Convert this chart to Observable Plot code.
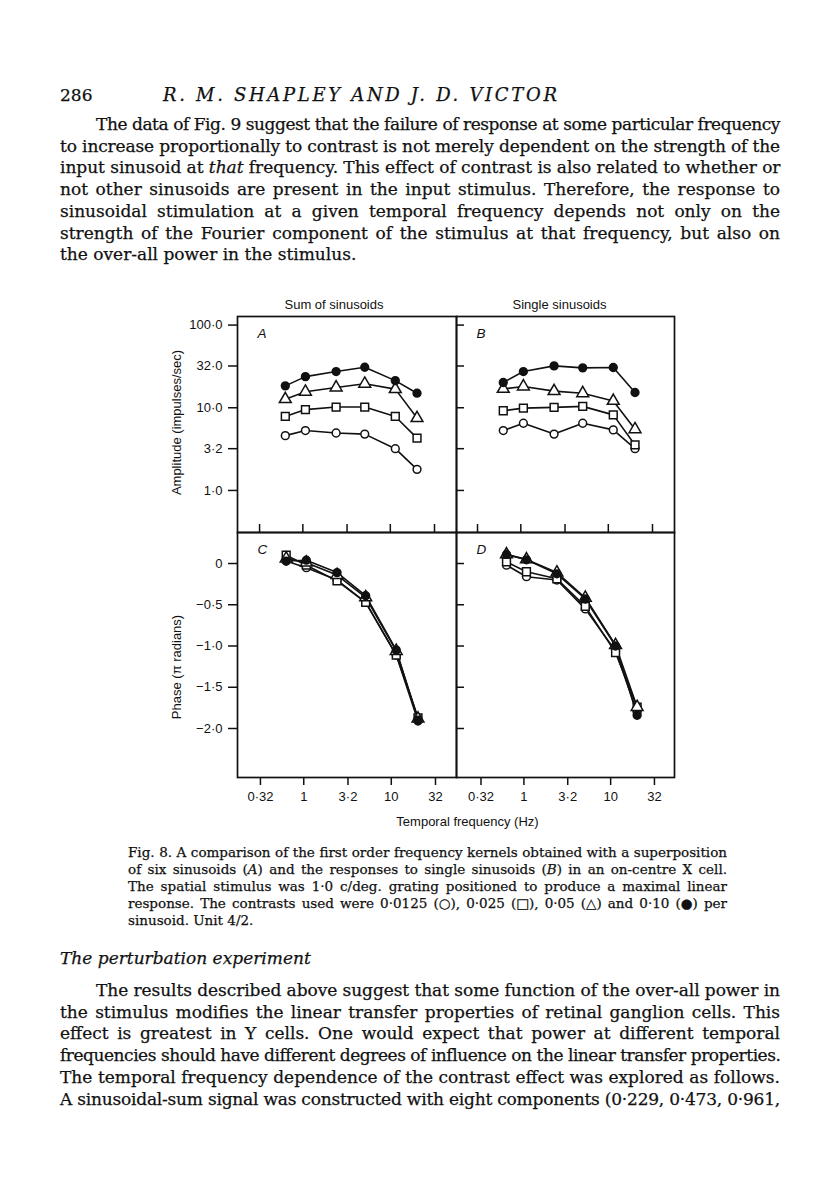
<!DOCTYPE html>
<html><head><meta charset="utf-8">
<script src="https://cdn.jsdelivr.net/npm/d3@7"></script>
<script src="https://cdn.jsdelivr.net/npm/@observablehq/plot@0.6"></script>
<style>
html,body{margin:0;padding:0;background:#fff;}
#page{position:relative;width:816px;height:1191px;overflow:hidden;background:#fff;color:#111;}
.t{position:absolute;white-space:nowrap;font-family:"DejaVu Serif",serif;color:#111;-webkit-text-stroke:0.25px #111;}
.panel{position:absolute;}
</style></head><body><div id="page"></div>
<script>
// ---------- data ----------
const freq = [0.63, 1.07, 2.4, 5.1, 11.4, 20.2];
const contrasts = ["0·0125", "0·025", "0·05", "0·10"];
const symbols = ["circle", "square", "triangle", "circle"];
const fills = ["white", "white", "white", "#111"];

const ampSum0125 = [4.6, 5.3, 4.95, 4.8, 3.2, 1.8];
const ampSum025  = [7.85, 9.5, 10.2, 10.2, 7.85, 4.3];
const ampSum05   = [12.7, 15.6, 17.6, 19.5, 16.8, 7.5];
const ampSum10   = [18.4, 23.8, 27.4, 30.9, 21.3, 15.0];

const ampSingle0125 = [5.3, 6.5, 4.8, 6.5, 5.4, 3.2];
const ampSingle025  = [9.2, 9.9, 10.1, 10.4, 8.2, 3.55];
const ampSingle05   = [16.9, 18.1, 15.9, 15.0, 12.1, 5.5];
const ampSingle10   = [20.2, 27.4, 32.1, 30.4, 30.7, 15.3];

const phaseSum0125 = [0.03, -0.05, -0.20, -0.47, -1.11, -1.91];
const phaseSum025  = [0.10, -0.02, -0.21, -0.47, -1.11, -1.87];
const phaseSum05   = [0.06, 0.01, -0.14, -0.41, -1.06, -1.88];
const phaseSum10   = [0.03, 0.04, -0.11, -0.39, -1.05, -1.90];

const phaseSingle0125 = [-0.02, -0.16, -0.20, -0.55, -1.06, -1.80];
const phaseSingle025  = [0.02, -0.10, -0.185, -0.52, -1.08, -1.74];
const phaseSingle05   = [0.11, 0.05, -0.11, -0.415, -0.99, -1.74];
const phaseSingle10   = [0.11, 0.045, -0.125, -0.43, -1.00, -1.84];

const freqTicks = [0.32, 1, 3.2, 10, 32];
const freqTickLabels = ["0·32", "1", "3·2", "10", "32"];
const ampTicks = [1, 3.2, 10, 32, 100];
const ampTickLabels = ["1·0", "3·2", "10·0", "32·0", "100·0"];
const phaseTicks = [0, -0.5, -1, -1.5, -2];
const phaseTickLabels = ["0", "−0·5", "−1·0", "−1·5", "−2·0"];

function table(arrs) {
  const rows = [];
  arrs.forEach((vals, s) => vals.forEach((v, i) => rows.push({f: freq[i], v, s})));
  return rows;
}
const sumAmp = table([ampSum0125, ampSum025, ampSum05, ampSum10]);
const singleAmp = table([ampSingle0125, ampSingle025, ampSingle05, ampSingle10]);
const sumPhase = table([phaseSum0125, phaseSum025, phaseSum05, phaseSum10]);
const singlePhase = table([phaseSingle0125, phaseSingle025, phaseSingle05, phaseSingle10]);

// ---------- page ----------
const page = document.getElementById("page");
const INK = "#111";
const ML = 90, MR = 10, MT = 26, MB = 50;
const FS = 13;

function panel(o) {
  const {left, top, w, h, xDomain, yType, yDomain, yTicks, yLabels, data,
         labelled, bottom, letter, title, titleDx, yTitle, yTitleDy, xTitle} = o;
  const marks = [];
  marks.push(Plot.frame({stroke: INK, strokeWidth: 1.7}));
  if (labelled) {
    marks.push(Plot.axisY({ticks: yTicks, tickFormat: d => yLabels[yTicks.indexOf(d)],
      tickSize: 9, tickPadding: 6, label: null, color: INK, strokeWidth: 1.5, fontSize: FS}));
    marks.push(Plot.text([yTitle], {text: d => d, frameAnchor: "left", dx: -61, dy: yTitleDy,
      rotate: -90, textAnchor: "middle", lineAnchor: "middle", fontSize: FS, fill: INK}));
  } else {
    marks.push(Plot.tickY(yTicks, {y: d => d, insetRight: w - 8, stroke: INK, strokeWidth: 1.5}));
  }
  if (bottom) {
    marks.push(Plot.axisX({ticks: freqTicks, tickFormat: d => freqTickLabels[freqTicks.indexOf(d)],
      anchor: "bottom", tickSize: 8, tickPadding: 6, label: null, color: INK, strokeWidth: 1.5, fontSize: FS}));
  } else {
    marks.push(Plot.tickX(freqTicks, {x: d => d, insetTop: h - 8, stroke: INK, strokeWidth: 1.5}));
  }
  if (title) marks.push(Plot.text([title], {text: d => d, frameAnchor: "top", dx: titleDx, dy: -12,
    lineAnchor: "middle", fontSize: FS, fill: INK}));
  if (xTitle) marks.push(Plot.text([xTitle], {text: d => d, frameAnchor: "bottom-left", dx: 11, dy: 44,
    textAnchor: "middle", lineAnchor: "middle", fontSize: FS, fill: INK}));
  marks.push(Plot.text([letter], {text: d => d, frameAnchor: "top-left", dx: 20, dy: 17,
    textAnchor: "start", lineAnchor: "middle", fontStyle: "italic", fontSize: 13.5, fill: INK}));
  marks.push(Plot.line(data, {x: "f", y: "v", z: "s", stroke: INK, strokeWidth: 1.6}));
  for (let s = 0; s < 4; s++) {
    marks.push(Plot.dot(data.filter(d => d.s === s), {x: "f", y: "v", symbol: symbols[s],
      r: symbols[s] === "circle" ? 3.9 : 4.4, fill: fills[s], stroke: INK, strokeWidth: 1.5}));
  }
  const svg = Plot.plot({
    width: ML + w + MR, height: MT + h + MB,
    marginLeft: ML, marginRight: MR, marginTop: MT, marginBottom: MB,
    x: {type: "log", domain: xDomain, axis: null},
    y: {type: yType, domain: yDomain, axis: null},
    style: {background: "transparent", overflow: "visible", fontFamily: "'Liberation Sans', Arial, sans-serif", fontSize: FS + "px", color: INK},
    marks
  });
  svg.classList.add("panel");
  svg.style.left = (left - ML) + "px";
  svg.style.top = (top - MT) + "px";
  page.appendChild(svg);
}

panel({left: 237, top: 316, w: 219, h: 216, xDomain: [0.179, 57.1], yType: "log", yDomain: [0.31, 127],
  yTicks: ampTicks, yLabels: ampTickLabels, data: sumAmp, labelled: true, bottom: false, letter: "A",
  title: "Sum of sinusoids", titleDx: -13, yTitle: "Amplitude (impulses/sec)", yTitleDy: -2});
panel({left: 456, top: 316, w: 218, h: 216, xDomain: [0.184, 57.1], yType: "log", yDomain: [0.31, 127],
  yTicks: ampTicks, yLabels: ampTickLabels, data: singleAmp, labelled: false, bottom: false, letter: "B",
  title: "Single sinusoids", titleDx: -6});
panel({left: 237, top: 532, w: 219, h: 245, xDomain: [0.175, 55.6], yType: "linear", yDomain: [-2.594, 0.376],
  yTicks: phaseTicks, yLabels: phaseTickLabels, data: sumPhase, labelled: true, bottom: true, letter: "C",
  yTitle: "Phase (π radians)", yTitleDy: 12});
panel({left: 456, top: 532, w: 218, h: 245, xDomain: [0.167, 54.5], yType: "linear", yDomain: [-2.594, 0.376],
  yTicks: phaseTicks, yLabels: phaseTickLabels, data: singlePhase, labelled: false, bottom: true, letter: "D",
  xTitle: "Temporal frequency (Hz)"});

// ---------- text ----------
function addLine(html, x, yc, width, opt) {
  const {size = 17, lh = 22, italic = false, justify = false, spread = false} = opt || {};
  const el = document.createElement("div");
  el.className = "t";
  el.style.left = x + "px";
  el.style.top = (yc - lh / 2) + "px";
  el.style.lineHeight = lh + "px";
  el.style.fontSize = size + "px";
  if (italic) el.style.fontStyle = "italic";
  el.innerHTML = html;
  page.appendChild(el);
  if (width) {
    const w = el.getBoundingClientRect().width;
    const txt = el.textContent;
    const spaces = (txt.match(/ /g) || []).length;
    let diff = width - w;
    if (diff < 0 || spread) {
      el.style.letterSpacing = (diff / (txt.length - 1)) + "px";
      const w2 = el.getBoundingClientRect().width;
      diff = width - w2;
    }
    if (justify && diff > 0 && spaces) el.style.wordSpacing = (diff / spaces) + "px";
  }
  return el;
}

addLine("286", 60, 95, null, {size: 17});
addLine("R. M. SHAPLEY AND J. D. VICTOR", 163, 95, 394, {size: 18, italic: true, spread: true});

const para1 = [
  "The data of Fig. 9 suggest that the failure of response at some particular frequency",
  "to increase proportionally to contrast is not merely dependent on the strength of the",
  "input sinusoid at <i>that</i> frequency. This effect of contrast is also related to whether or",
  "not other sinusoids are present in the input stimulus. Therefore, the response to",
  "sinusoidal stimulation at a given temporal frequency depends not only on the",
  "strength of the Fourier component of the stimulus at that frequency, but also on",
  "the over-all power in the stimulus."
];
para1.forEach((l, i) => {
  const x = i === 0 ? 96 : 60;
  const last = i === para1.length - 1;
  addLine(l, x, 124 + i * 21.7, last ? null : 780 - x, {size: 17, justify: true});
});

const caption = [
  "Fig. 8. A comparison of the first order frequency kernels obtained with a superposition",
  "of six sinusoids (<i>A</i>) and the responses to single sinusoids (<i>B</i>) in an on-centre X cell.",
  "The spatial stimulus was 1·0 c/deg. grating positioned to produce a maximal linear",
  "response. The contrasts used were 0·0125 (○), 0·025 (□), 0·05 (△) and 0·10 (●) per",
  "sinusoid. Unit 4/2."
];
caption.forEach((l, i) => {
  const last = i === caption.length - 1;
  addLine(l, 128, 852 + i * 17, last ? null : 599, {size: 13.5, lh: 17, justify: true});
});

addLine("The perturbation experiment", 60, 958, null, {size: 17, italic: true});

const para2 = [
  "The results described above suggest that some function of the over-all power in",
  "the stimulus modifies the linear transfer properties of retinal ganglion cells. This",
  "effect is greatest in Y cells. One would expect that power at different temporal",
  "frequencies should have different degrees of influence on the linear transfer properties.",
  "The temporal frequency dependence of the contrast effect was explored as follows.",
  "A sinusoidal-sum signal was constructed with eight components (0·229, 0·473, 0·961,"
];
para2.forEach((l, i) => {
  const x = i === 0 ? 96 : 60;
  addLine(l, x, 990 + i * 21.7, 780 - x, {size: 17, justify: true});
});
</script></body></html>
